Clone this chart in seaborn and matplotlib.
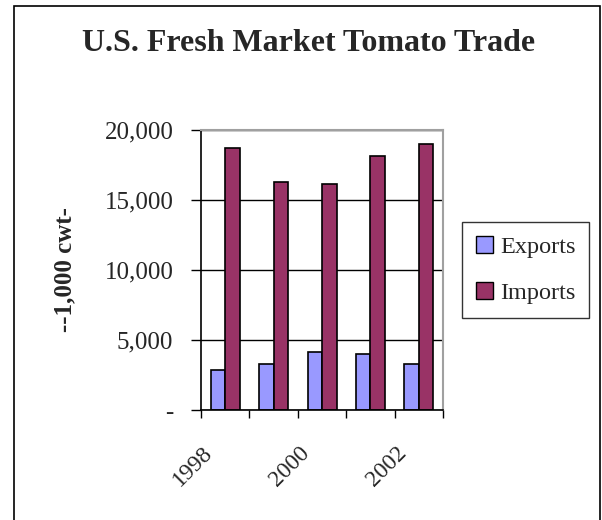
import numpy as np
import pandas as pd
import matplotlib
matplotlib.use('Agg')
import matplotlib.pyplot as plt
import matplotlib.patches as mpatches
import matplotlib.transforms as mtransforms
from matplotlib.ticker import FuncFormatter, FixedLocator
import seaborn as sns

# Data (1,000 cwt)
years = ['1998', '1999', '2000', '2001', '2002']
exports = [2850, 3290, 4120, 3980, 3290]
imports = [18700, 16260, 16120, 18140, 18980]
series_names = ['Exports', 'Imports']
series_colors = ['#9999FF', '#993366']
year_labels = ['1998', '', '2000', '', '2002']

sns.set_theme(style='white')
plt.rcParams['font.family'] = ['Liberation Serif', 'DejaVu Serif']

df = pd.DataFrame({
    'year': years * 2,
    'value': exports + imports,
    'series': ['Exports'] * len(years) + ['Imports'] * len(years),
})

fig = plt.figure(figsize=(6.02, 5.2), dpi=100)
ax = fig.add_axes([0.334, 0.2115, 0.402, 0.5385])

sns.barplot(data=df, x='year', y='value', hue='series', order=years,
            hue_order=series_names, palette=series_colors, width=0.6,
            edgecolor='black', linewidth=1.2, saturation=1, errorbar=None,
            ax=ax)

ax.set_xlim(-0.5, len(years) - 0.5)
ax.set_ylim(0, 20000)
ax.set_yticks([0, 5000, 10000, 15000, 20000])
ax.yaxis.set_major_formatter(FuncFormatter(lambda v, p: '-' if v == 0 else f'{v:,.0f}'))
ax.yaxis.grid(True, color='black', linewidth=1)
ax.set_axisbelow(True)

# category labels without marks; tick marks at category boundaries
ax.set_xticks(range(len(years)))
ax.set_xticklabels(year_labels, rotation=45, ha='right', va='top', fontsize=17)
ax.tick_params(axis='x', which='major', length=0, pad=23)
ax.xaxis.set_minor_locator(FixedLocator(np.arange(-0.5, len(years), 1.0)))
ax.tick_params(axis='x', which='minor', length=6, width=1, color='black', direction='out', bottom=True)
shift = mtransforms.ScaledTranslation(-6 / 72, 0, fig.dpi_scale_trans)
for lbl in ax.get_xticklabels():
    lbl.set_transform(lbl.get_transform() + shift)

ax.tick_params(axis='y', which='major', length=7, width=1, color='black',
               direction='out', left=True, labelsize=18, pad=13)

ax.set_xlabel('')
ax.set_ylabel('--1,000 cwt-', fontsize=18, fontweight='bold', labelpad=20)

for side in ['left', 'bottom']:
    ax.spines[side].set_color('black')
    ax.spines[side].set_linewidth(1.2)
for side in ['top', 'right']:
    ax.spines[side].set_color('#a0a0a0')
    ax.spines[side].set_linewidth(1.5)

handles = [mpatches.Patch(facecolor=c, edgecolor='black', linewidth=1) for c in series_colors]
leg = ax.legend(handles, series_names, loc='center left', bbox_to_anchor=(1.08, 0.5),
                fontsize=17.5, frameon=True, fancybox=False, edgecolor='black',
                handlelength=0.7, handleheight=0.7, handletextpad=0.3,
                labelspacing=1.0, borderpad=0.55, borderaxespad=0)
leg.get_frame().set_linewidth(1)

fig.text(0.512, 0.917, 'U.S. Fresh Market Tomato Trade', ha='center', va='center',
         fontsize=23, fontweight='bold')

frame = mpatches.Rectangle((14 / 602, -0.05), 586 / 602, 1.05 - 6 / 520,
                           transform=fig.transFigure, fill=False,
                           edgecolor='black', linewidth=1.2, clip_on=False)
fig.patches.append(frame)

fig.savefig('out.png', dpi=100)
